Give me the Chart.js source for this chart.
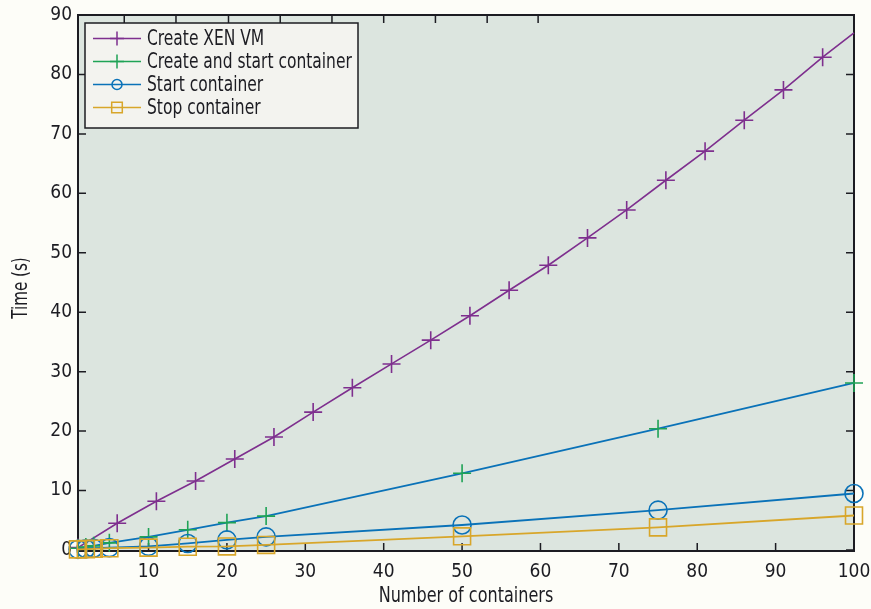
<!DOCTYPE html>
<html>
<head>
<meta charset="utf-8">
<script src="https://cdn.jsdelivr.net/npm/chart.js@4/dist/chart.umd.min.js"></script>
<style>
html,body{margin:0;padding:0;background:#fdfdf8}
#wrap{width:871px;height:609px}
</style>
</head>
<body>
<div id="wrap"><canvas id="chart" width="871" height="609"></canvas></div>
<script>
// data
let xenX=[1,6,11,16,21,26,31,36,41,46,51,56,61,66,71,76,81,86,91,96,100]
let xenY=[0.4,4.5,8.2,11.6,15.3,19.0,23.2,27.3,31.3,35.3,39.4,43.7,47.9,52.5,57.2,62.2,67.1,72.3,77.4,82.9,87.0]

let contX=[1,2,3,5,10,15,20,25,50,75,100]
let createStartY=[0.3,0.5,0.7,1.2,2.2,3.4,4.6,5.7,12.9,20.4,28.1]
let startY=[0.1,0.2,0.3,0.4,0.6,1.1,1.7,2.2,4.2,6.7,9.5]
let stopY=[0.1,0.15,0.2,0.3,0.4,0.55,0.6,0.85,2.3,3.8,5.8]

let xTicks=[10,20,30,40,50,60,70,80,90,100]
let yTicks=[0,10,20,30,40,50,60,70,80,90]
let topTicks=[6.9,13.5,20.2,26.8,33.4,40.0,46.6,53.2,59.7]

let labels=["Create XEN VM","Create and start container","Start container","Stop container"]
let xTitle="Number of containers"
let yTitle="Time (s)"

let purple="#7e2f8e"
let green="#1fa356"
let blue="#0a72b8"
let yellow="#d8a62a"
let ink="#1c1c22"
let fontFam="'DejaVu Sans Condensed','Liberation Sans Narrow',sans-serif"

function pts(xs,ys){
return xs.map((x,i)=>({x:x,y:ys[i]}))
}

// marker + line of each legend row
let legendItems=[
{line:purple,mark:purple,style:"cross",r:7},
{line:green,mark:green,style:"cross",r:7},
{line:blue,mark:blue,style:"circle",r:5},
{line:yellow,mark:yellow,style:"rect",r:7.5}
]

// narrow text like the original font
function narrowText(ctx,t,x,y,k){
let w=ctx.measureText(t).width
ctx.fillText(t,x,y,w*k)
}

let boxPlugin={
id:"box",
beforeDraw(chart){
let a=chart.chartArea, ctx=chart.ctx
ctx.save()
ctx.fillStyle="#fdfdf8"
ctx.fillRect(0,0,chart.width,chart.height)
ctx.fillStyle="#dce5df"
ctx.fillRect(a.left,a.top,a.right-a.left,a.bottom-a.top)
ctx.restore()
},
beforeDatasetsDraw(chart){
let a=chart.chartArea, ctx=chart.ctx
let xs=chart.scales.x, ys=chart.scales.y
let tl=8
ctx.save()
ctx.strokeStyle=ink
ctx.lineWidth=1.5
ctx.beginPath()
xTicks.forEach(v=>{
let px=xs.getPixelForValue(v)
ctx.moveTo(px,a.bottom);ctx.lineTo(px,a.bottom-tl)
})
topTicks.forEach(v=>{
let px=xs.getPixelForValue(v)
ctx.moveTo(px,a.top);ctx.lineTo(px,a.top+tl)
})
yTicks.forEach(v=>{
let py=ys.getPixelForValue(v)
ctx.moveTo(a.left,py);ctx.lineTo(a.left+tl,py)
ctx.moveTo(a.right,py);ctx.lineTo(a.right-tl,py)
})
ctx.stroke()
ctx.lineWidth=2
ctx.strokeRect(a.left,a.top,a.right-a.left,a.bottom-a.top)

// axis titles
ctx.fillStyle=ink
ctx.font="21px "+fontFam
ctx.textAlign="center"
ctx.textBaseline="middle"
narrowText(ctx,xTitle,(a.left+a.right)/2,597,0.85)
ctx.translate(22,(a.top+a.bottom)/2+5)
ctx.rotate(-Math.PI/2)
narrowText(ctx,yTitle,0,0,0.8)
ctx.restore()
},
afterDatasetsDraw(chart){
let a=chart.chartArea, ctx=chart.ctx
ctx.save()
// legend
let lx=a.left+7, ly=a.top+8, lw=273, lh=105
ctx.fillStyle="#f3f3ef"
ctx.fillRect(lx,ly,lw,lh)
ctx.lineWidth=1.5
ctx.strokeStyle=ink
ctx.strokeRect(lx,ly,lw,lh)
ctx.font="21px "+fontFam
ctx.textBaseline="middle"
ctx.textAlign="left"
legendItems.forEach((it,i)=>{
let cy=ly+15.5+i*23
ctx.strokeStyle=it.line
ctx.lineWidth=1.5
ctx.beginPath()
ctx.moveTo(lx+8,cy);ctx.lineTo(lx+56,cy)
ctx.stroke()
ctx.strokeStyle=it.mark
ctx.fillStyle="rgba(0,0,0,0)"
Chart.helpers.drawPoint(ctx,{pointStyle:it.style,radius:it.r,rotation:0,borderWidth:1.5},lx+32,cy)
ctx.fillStyle=ink
narrowText(ctx,labels[i],lx+62,cy+1,0.82)
})
ctx.restore()
}
}

new Chart(document.getElementById("chart"),{
type:"line",
data:{
datasets:[
{
label:labels[0],
data:pts(xenX,xenY),
order:3,
clip:false,
borderColor:purple,
borderWidth:1.6,
pointStyle:"cross",
pointRadius:xenX.map((x,i)=>i==xenX.length-1?0:9),
pointBorderColor:purple,
pointBorderWidth:1.6,
fill:false,
tension:0
},
{
label:labels[1],
data:pts(contX,createStartY),
order:2,
clip:false,
borderColor:blue,
borderWidth:1.8,
pointStyle:"cross",
pointRadius:9,
pointBorderColor:green,
pointBorderWidth:1.6,
fill:false,
tension:0
},
{
label:labels[2],
data:pts(contX,startY),
order:1,
clip:false,
borderColor:blue,
borderWidth:1.8,
pointStyle:"circle",
pointRadius:9,
pointBorderColor:blue,
pointBackgroundColor:"rgba(0,0,0,0)",
pointBorderWidth:1.6,
fill:false,
tension:0
},
{
label:labels[3],
data:pts(contX,stopY),
order:0,
clip:false,
borderColor:yellow,
borderWidth:1.8,
pointStyle:"rect",
pointRadius:12,
pointBorderColor:yellow,
pointBackgroundColor:"rgba(0,0,0,0)",
pointBorderWidth:1.6,
fill:false,
tension:0
}
]
},
options:{
responsive:false,
animation:false,
events:[],
layout:{padding:{top:15,right:17,left:0,bottom:0}},
plugins:{legend:{display:false},tooltip:{enabled:false}},
scales:{
x:{
type:"linear",
min:1,
max:100,
afterBuildTicks:s=>{s.ticks=xTicks.map(v=>({value:v}))},
afterFit:s=>{s.height=58;s.paddingLeft=0;s.paddingRight=0},
grid:{display:false,drawTicks:false},
border:{display:false},
ticks:{color:ink,font:{family:fontFam,size:19},padding:10,maxRotation:0}
},
y:{
type:"linear",
min:-0.17,
max:90,
afterBuildTicks:s=>{s.ticks=yTicks.map(v=>({value:v}))},
afterFit:s=>{s.width=78;s.paddingTop=0;s.paddingBottom=0},
grid:{display:false,drawTicks:false},
border:{display:false},
ticks:{color:ink,font:{family:fontFam,size:19},padding:6}
}
}
},
plugins:[boxPlugin]
})
</script>
</body>
</html>
